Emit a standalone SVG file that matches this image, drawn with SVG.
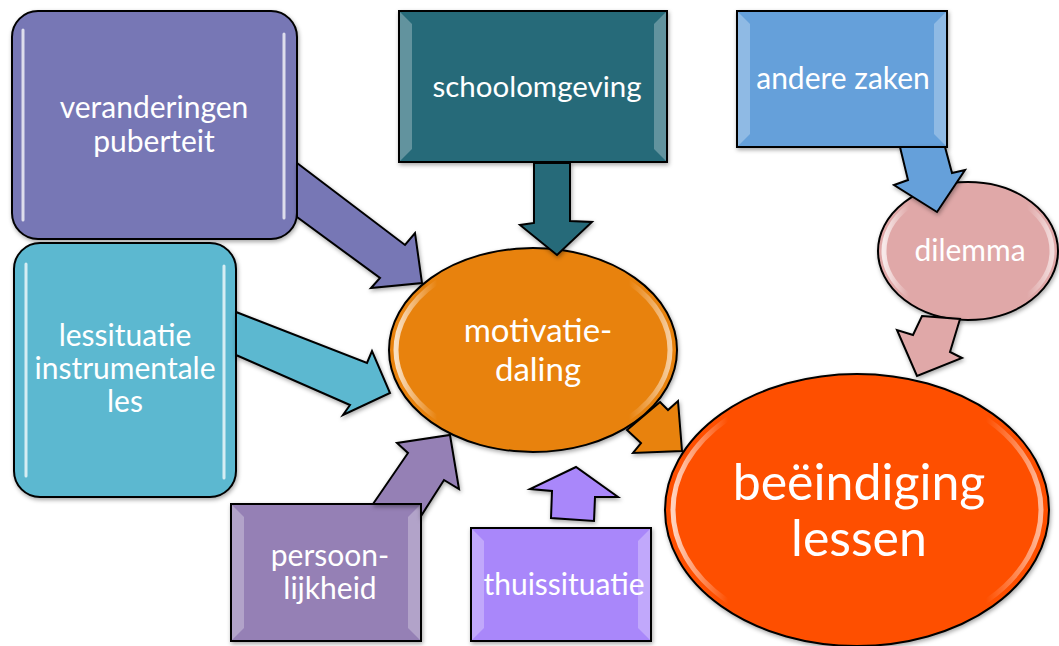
<svg xmlns="http://www.w3.org/2000/svg" width="1059" height="646" viewBox="0 0 1059 646">
<defs>
<filter id="sh" x="-10%" y="-10%" width="125%" height="125%">
<feDropShadow dx="1" dy="2" stdDeviation="2" flood-color="#000" flood-opacity="0.35"/>
</filter>
<linearGradient id="rim" x1="0" y1="0" x2="1" y2="0">
<stop offset="0" stop-color="#fff" stop-opacity="0.75"/>
<stop offset="0.15" stop-color="#fff" stop-opacity="0"/>
<stop offset="0.85" stop-color="#fff" stop-opacity="0"/>
<stop offset="1" stop-color="#fff" stop-opacity="0.6"/>
</linearGradient>
</defs>
<style>
.n{stroke:#000;stroke-width:2;filter:url(#sh)}
.a{stroke:#000;stroke-width:2;stroke-linejoin:miter;filter:url(#sh)}
.t{font-family:Lato,"Liberation Sans",sans-serif;fill:#fff;text-anchor:middle}
.hl{stroke:#fff;stroke-width:3;stroke-linecap:round;opacity:0.75;fill:none}
.bv{fill:#fff;opacity:0.28}
.rim{fill:none;stroke:url(#rim);stroke-width:5}
</style>

<g id="beeindiging">
<ellipse class="n" cx="857" cy="510" rx="192" ry="136" fill="#fe5000"/>
<ellipse class="rim" cx="857" cy="510" rx="184" ry="128"/>
<text class="t" x="859" y="500" font-size="50">beëindiging</text>
<text class="t" x="859" y="556" font-size="50">lessen</text>
</g>

<g id="motivatie">
<ellipse class="n" cx="533" cy="350" rx="144" ry="102" fill="#e8820a"/>
<ellipse class="rim" cx="533" cy="350" rx="137" ry="95"/>
<text class="t" x="538" y="342" font-size="33">motivatie-</text>
<text class="t" x="538" y="381" font-size="33">daling</text>
</g>

<g id="dilemma">
<ellipse class="n" cx="968" cy="251" rx="90" ry="69" fill="#e0a8a8"/>
<ellipse class="rim" cx="968" cy="251" rx="84" ry="63"/>
<text class="t" x="970" y="261" font-size="30">dilemma</text>
</g>

<g id="puberteit">
<rect class="n" x="12" y="11" width="285" height="228" rx="26" fill="#7777b5"/>
<line class="hl" x1="23" y1="30" x2="23" y2="220"/>
<line class="hl" x1="284" y1="34" x2="284" y2="218"/>
<text class="t" x="154" y="118" font-size="30">veranderingen</text>
<text class="t" x="154" y="152" font-size="30">puberteit</text>
</g>

<g id="lessituatie">
<rect class="n" x="14" y="243" width="222" height="254" rx="26" fill="#5bb8d0"/>
<line class="hl" x1="26" y1="264" x2="26" y2="476"/>
<line class="hl" x1="224" y1="266" x2="224" y2="478"/>
<text class="t" x="125" y="346" font-size="30">lessituatie</text>
<text class="t" x="125" y="379" font-size="30">instrumentale</text>
<text class="t" x="125" y="412" font-size="30">les</text>
</g>

<g id="schoolomgeving">
<rect class="n" x="399" y="11" width="268" height="151" fill="#286b79"/>
<polygon class="bv" points="400,12 412,24 412,149 400,161"/>
<polygon class="bv" points="666,12 654,24 654,149 666,161"/>
<text class="t" x="537" y="97" font-size="29.5">schoolomgeving</text>
</g>

<g id="anderezaken">
<rect class="n" x="737" y="11" width="210" height="136" fill="#65a0da"/>
<polygon class="bv" points="738,12 750,24 750,134 738,146"/>
<polygon class="bv" points="946,12 934,24 934,134 946,146"/>
<text class="t" x="843" y="89" font-size="30">andere zaken</text>
</g>

<g id="persoonlijkheid">
<rect class="n" x="231" y="504" width="190" height="137" fill="#9580b5"/>
<polygon class="bv" points="232,505 244,517 244,628 232,640"/>
<polygon class="bv" points="420,505 408,517 408,628 420,640"/>
<text class="t" x="330" y="566" font-size="30">persoon-</text>
<text class="t" x="330" y="599" font-size="30">lijkheid</text>
</g>

<g id="thuissituatie">
<rect class="n" x="471" y="528" width="180" height="113" fill="#a987fa"/>
<polygon class="bv" points="472,529 484,541 484,628 472,640"/>
<polygon class="bv" points="650,529 638,541 638,628 650,640"/>
<text class="t" x="564" y="595" font-size="30">thuissituatie</text>
</g>

<g id="connectors">
<polygon class="a" fill="#7777b5" points="297,163 405,245 415,233 422,283 371,288 380,278 297,217"/>
<polygon class="a" fill="#5bb8d0" points="236,312 367,363 372,351 390,393 343,415 350,405 236,355"/>
<polygon class="a" fill="#286b79" points="534,163 570,163 570,221 592,222 557,255 520,225 534,223"/>
<polygon class="a" fill="#65a0da" points="900,147 945,147 952,173 965,170 937,212 894,185 908,180"/>
<polygon class="a" fill="#e0a8a8" points="922,316 960,319 950,352 962,358 917,376 897,330 913,335"/>
<polygon class="a" fill="#e8820a" points="660,402 668,410 678,401 682,451 633,453 641,443 627,430"/>
<polygon class="a" fill="#9580b5" points="373,504 408,453 397,443 450,435 459,489 444,480 421,516 421,504"/>
<polygon class="a" fill="#a987fa" points="551,518 552,491 530,489 576,467 618,497 595,497 594,521"/>
</g>
</svg>
